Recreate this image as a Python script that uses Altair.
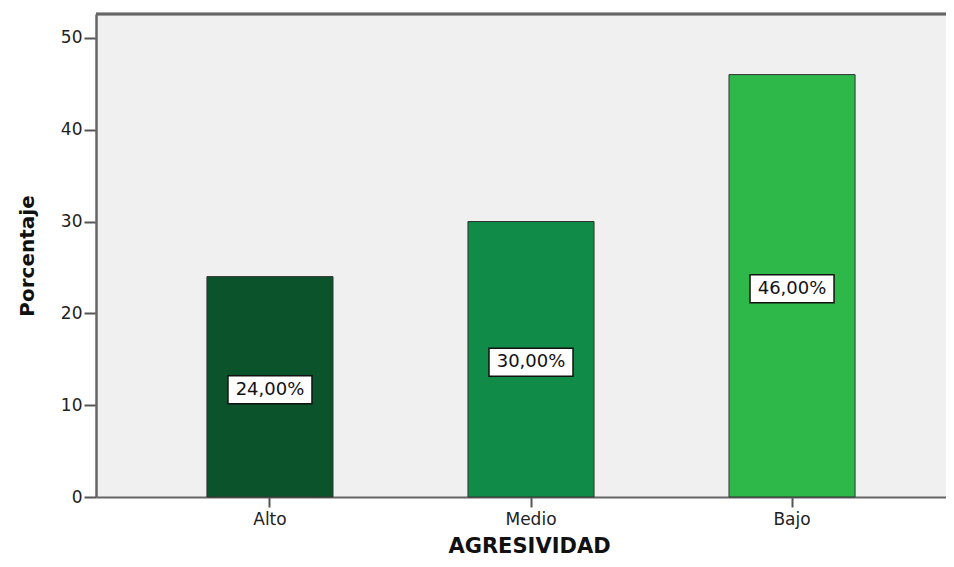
import altair as alt
import pandas as pd

categories = ["Alto", "Medio", "Bajo"]
values = [24, 30, 46]
labels = ["24,00%", "30,00%", "46,00%"]
colors = ["#0B532A", "#108C48", "#2EB84A"]
y_ticks = [0, 10, 20, 30, 40, 50]

df = pd.DataFrame({
    "cat": categories,
    "val": values,
    "lab": labels,
    "half": [v / 2 for v in values],
})

x_enc = alt.X(
    "cat:N",
    sort=categories,
    scale=alt.Scale(range=[0, 870], paddingInner=0.517, paddingOuter=0.425),
    axis=alt.Axis(
        title="AGRESIVIDAD",
        titleFont="DejaVu Sans",
        titleFontSize=21,
        titleFontWeight="bold",
        titleColor="#111",
        titleX=433,
        titleY=55,
        titleBaseline="alphabetic",
        labelFont="DejaVu Sans",
        labelFontSize=17,
        labelColor="#222",
        labelAngle=0,
        labelPadding=4,
        tickSize=10,
        tickWidth=2,
        tickColor="#555",
        domainColor="#666",
        domainWidth=2,
    ),
)

y_scale = alt.Scale(domain=[0, 52.6], nice=False)

bars = alt.Chart(df).mark_bar(stroke="#333", strokeWidth=1).encode(
    x=x_enc,
    y=alt.Y(
        "val:Q",
        scale=y_scale,
        axis=alt.Axis(
            title="Porcentaje",
            values=y_ticks,
            titleFont="DejaVu Sans",
            titleFontSize=20,
            titleFontWeight="bold",
            titleColor="#111",
            titleX=-63,
            titleBaseline="alphabetic",
            labelFont="DejaVu Sans",
            labelFontSize=17,
            labelColor="#222",
            labelPadding=2,
            tickSize=12,
            tickWidth=2,
            tickColor="#555",
            domainColor="#666",
            domainWidth=2.5,
            grid=False,
        ),
    ),
    color=alt.Color("cat:N", scale=alt.Scale(domain=categories, range=colors), legend=None),
)

top_border = alt.Chart(df).mark_rule(color="#666", strokeWidth=2.5).encode(
    y=alt.value(0), x=alt.value(0), x2=alt.value(870)
)

boxes = alt.Chart(df).mark_point(
    shape="M-1,-0.333L1,-0.333L1,0.333L-1,0.333Z",
    size=7056,
    filled=True,
    fill="white",
    stroke="#111",
    strokeWidth=1.5,
    opacity=1,
    yOffset=3,
).encode(
    x=alt.X("cat:N", sort=categories),
    y=alt.Y("half:Q", scale=y_scale),
)

texts = alt.Chart(df).mark_text(
    font="DejaVu Sans", fontSize=18, color="#111", baseline="middle", align="center", dy=3
).encode(
    x=alt.X("cat:N", sort=categories),
    y=alt.Y("half:Q", scale=y_scale),
    text="lab:N",
)

chart = (
    alt.layer(top_border, bars, boxes, texts)
    .properties(
        width=850,
        height=483,
        autosize=alt.AutoSizeParams(type="none"),
        padding={"left": 88, "top": 6, "right": 0, "bottom": 62},
    )
    .configure_view(fill="#F0F0F0", stroke=None)
)

chart.save("out.html", embed_options={"renderer": "svg", "actions": False})
